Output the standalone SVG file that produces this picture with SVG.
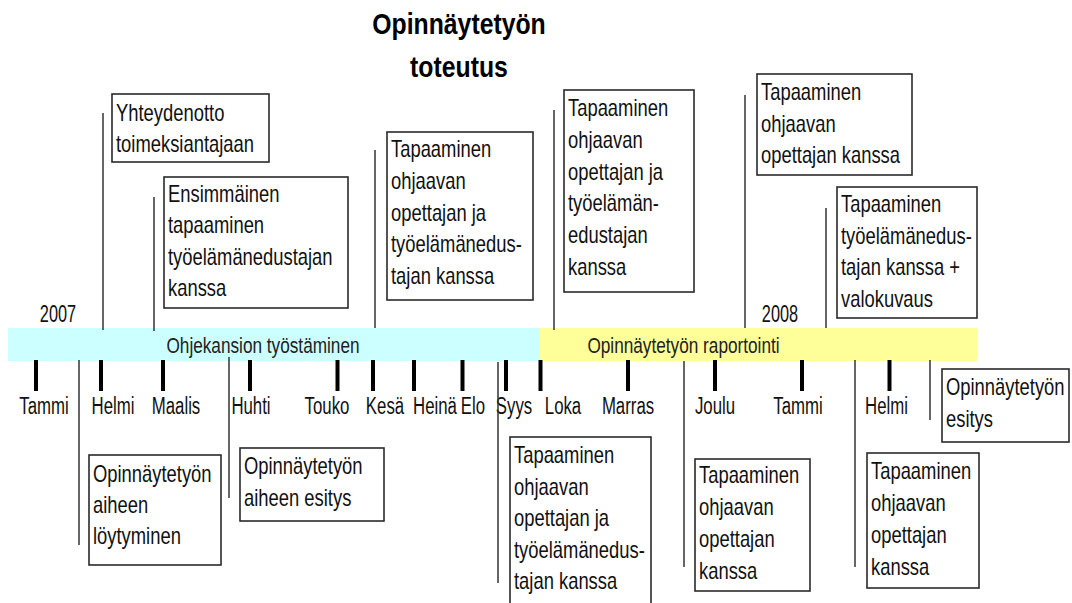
<svg xmlns="http://www.w3.org/2000/svg" width="1072" height="603" viewBox="0 0 1072 603">
<style>
.bg{fill:#ffffff}
.box{fill:#ffffff;stroke:#2a2a2a;stroke-width:1.6}
.bt{font-family:"Liberation Sans",Arial,sans-serif;font-size:23px;fill:#111}
.mt{font-family:"Liberation Sans",Arial,sans-serif;font-size:23px;fill:#111;text-anchor:middle}
.bar{font-family:"Liberation Sans",Arial,sans-serif;font-size:22.5px;fill:#222;text-anchor:middle}
.title{font-family:"Liberation Sans",Arial,sans-serif;font-size:29px;font-weight:bold;fill:#000;text-anchor:middle}
.tick{stroke:#000;stroke-width:4}
.conn{stroke:#333;stroke-width:1.5;fill:none}
</style>
<rect class="bg" x="0" y="0" width="1072" height="603"/>

<g id="title">
<text class="title" transform="translate(459,34) scale(0.855,1)">Opinnäytetyön</text>
<text class="title" transform="translate(459,77) scale(0.855,1)">toteutus</text>
</g>

<g id="timeline">
<rect x="8" y="328" width="532" height="33" fill="#ccffff"/>
<rect x="540" y="328" width="437" height="33" fill="#ffff99"/>
<text class="bar" transform="translate(263,352.5) scale(0.765,1)">Ohjekansion työstäminen</text>
<text class="bar" transform="translate(683.5,352.5) scale(0.765,1)">Opinnäytetyön raportointi</text>
<text class="mt" transform="translate(58,322) scale(0.71,1)">2007</text>
<text class="mt" transform="translate(780,322) scale(0.71,1)">2008</text>
<g id="ticks">
<line class="tick" x1="36" y1="360" x2="36" y2="391"/>
<line class="tick" x1="101" y1="360" x2="101" y2="391"/>
<line class="tick" x1="163" y1="360" x2="163" y2="391"/>
<line class="tick" x1="250" y1="360" x2="250" y2="391"/>
<line class="tick" x1="337.5" y1="360" x2="337.5" y2="391"/>
<line class="tick" x1="373" y1="360" x2="373" y2="391"/>
<line class="tick" x1="414" y1="360" x2="414" y2="391"/>
<line class="tick" x1="462.5" y1="360" x2="462.5" y2="391"/>
<line class="tick" x1="506" y1="360" x2="506" y2="391"/>
<line class="tick" x1="540.5" y1="360" x2="540.5" y2="391"/>
<line class="tick" x1="628" y1="360" x2="628" y2="391"/>
<line class="tick" x1="715" y1="360" x2="715" y2="391"/>
<line class="tick" x1="802" y1="360" x2="802" y2="391"/>
<line class="tick" x1="889.5" y1="360" x2="889.5" y2="391"/>
</g>
<g id="months">
<text class="mt" transform="translate(44,413.5) scale(0.73,1)">Tammi</text>
<text class="mt" transform="translate(113,413.5) scale(0.73,1)">Helmi</text>
<text class="mt" transform="translate(176,413.5) scale(0.73,1)">Maalis</text>
<text class="mt" transform="translate(251,413.5) scale(0.73,1)">Huhti</text>
<text class="mt" transform="translate(327,413.5) scale(0.73,1)">Touko</text>
<text class="mt" transform="translate(385,413.5) scale(0.73,1)">Kesä</text>
<text class="mt" transform="translate(435,413.5) scale(0.73,1)">Heinä</text>
<text class="mt" transform="translate(473,413.5) scale(0.73,1)">Elo</text>
<text class="mt" transform="translate(514,413.5) scale(0.73,1)">Syys</text>
<text class="mt" transform="translate(563,413.5) scale(0.73,1)">Loka</text>
<text class="mt" transform="translate(628,413.5) scale(0.73,1)">Marras</text>
<text class="mt" transform="translate(715,413.5) scale(0.73,1)">Joulu</text>
<text class="mt" transform="translate(798,413.5) scale(0.73,1)">Tammi</text>
<text class="mt" transform="translate(886.5,413.5) scale(0.73,1)">Helmi</text>
</g>
</g>

<g id="connectors">
<line class="conn" x1="103" y1="113" x2="103" y2="330"/>
<line class="conn" x1="154" y1="197" x2="154" y2="331"/>
<line class="conn" x1="375" y1="150" x2="375" y2="328"/>
<line class="conn" x1="554" y1="110" x2="554" y2="330"/>
<line class="conn" x1="745" y1="95" x2="745" y2="328"/>
<line class="conn" x1="826" y1="208" x2="826" y2="328"/>
<line class="conn" x1="79" y1="360" x2="79" y2="545"/>
<line class="conn" x1="229" y1="357" x2="229" y2="498"/>
<line class="conn" x1="498" y1="362" x2="498" y2="583"/>
<line class="conn" x1="684" y1="361" x2="684" y2="567"/>
<line class="conn" x1="855" y1="360" x2="855" y2="567"/>
<line class="conn" x1="930" y1="360" x2="930" y2="420"/>
</g>

<g id="yhteydenotto">
<rect class="box" x="112" y="94" width="157" height="68"/>
<text class="bt" transform="translate(116,0) scale(0.8,1)"><tspan x="0" y="121">Yhteydenotto</tspan><tspan x="0" y="152">toimeksiantajaan</tspan></text>
</g>

<g id="ensimmainen">
<rect class="box" x="164" y="177" width="184" height="131"/>
<text class="bt" transform="translate(168,0) scale(0.8,1)"><tspan x="0" y="202">Ensimmäinen</tspan><tspan x="0" y="233.5">tapaaminen</tspan><tspan x="0" y="265">työelämänedustajan</tspan><tspan x="0" y="296.5">kanssa</tspan></text>
</g>

<g id="tapaaminen-kesa">
<rect class="box" x="387" y="132" width="146" height="168"/>
<text class="bt" transform="translate(391,0) scale(0.8,1)"><tspan x="0" y="157.5">Tapaaminen</tspan><tspan x="0" y="189.5">ohjaavan</tspan><tspan x="0" y="221">opettajan ja</tspan><tspan x="0" y="252.5">työelämänedus-</tspan><tspan x="0" y="284.5">tajan kanssa</tspan></text>
</g>

<g id="tapaaminen-loka">
<rect class="box" x="564" y="90" width="130" height="202"/>
<text class="bt" transform="translate(568,0) scale(0.8,1)"><tspan x="0" y="116.5">Tapaaminen</tspan><tspan x="0" y="148.5">ohjaavan</tspan><tspan x="0" y="180">opettajan ja</tspan><tspan x="0" y="211.5">työelämän-</tspan><tspan x="0" y="243.5">edustajan</tspan><tspan x="0" y="275">kanssa</tspan></text>
</g>

<g id="tapaaminen-joulu-yla">
<rect class="box" x="757" y="74" width="155" height="101"/>
<text class="bt" transform="translate(761,0) scale(0.8,1)"><tspan x="0" y="100.5">Tapaaminen</tspan><tspan x="0" y="132">ohjaavan</tspan><tspan x="0" y="163.5">opettajan kanssa</tspan></text>
</g>

<g id="valokuvaus">
<rect class="box" x="837" y="187" width="140" height="131"/>
<text class="bt" transform="translate(841,0) scale(0.8,1)"><tspan x="0" y="212.5">Tapaaminen</tspan><tspan x="0" y="244">työelämänedus-</tspan><tspan x="0" y="275.5">tajan kanssa +</tspan><tspan x="0" y="307">valokuvaus</tspan></text>
</g>

<g id="aiheen-loytyminen">
<rect class="box" x="89" y="455" width="132" height="110"/>
<text class="bt" transform="translate(93,0) scale(0.8,1)"><tspan x="0" y="482">Opinnäytetyön</tspan><tspan x="0" y="513">aiheen</tspan><tspan x="0" y="544">löytyminen</tspan></text>
</g>

<g id="aiheen-esitys">
<rect class="box" x="240" y="448" width="144" height="73"/>
<text class="bt" transform="translate(244,0) scale(0.8,1)"><tspan x="0" y="474.5">Opinnäytetyön</tspan><tspan x="0" y="506">aiheen esitys</tspan></text>
</g>

<g id="tapaaminen-syys">
<rect class="box" x="510" y="437" width="141" height="175"/>
<text class="bt" transform="translate(514,0) scale(0.8,1)"><tspan x="0" y="463.5">Tapaaminen</tspan><tspan x="0" y="495">ohjaavan</tspan><tspan x="0" y="526.5">opettajan ja</tspan><tspan x="0" y="558">työelämänedus-</tspan><tspan x="0" y="589.5">tajan kanssa</tspan></text>
</g>

<g id="tapaaminen-joulu">
<rect class="box" x="695" y="459" width="115" height="132"/>
<text class="bt" transform="translate(699,0) scale(0.8,1)"><tspan x="0" y="483.5">Tapaaminen</tspan><tspan x="0" y="515.5">ohjaavan</tspan><tspan x="0" y="547.5">opettajan</tspan><tspan x="0" y="579.5">kanssa</tspan></text>
</g>

<g id="tapaaminen-helmi">
<rect class="box" x="867" y="453" width="112" height="135"/>
<text class="bt" transform="translate(871,0) scale(0.8,1)"><tspan x="0" y="479">Tapaaminen</tspan><tspan x="0" y="511">ohjaavan</tspan><tspan x="0" y="543">opettajan</tspan><tspan x="0" y="575">kanssa</tspan></text>
</g>

<g id="esitys">
<rect class="box" x="942" y="369" width="127" height="73"/>
<text class="bt" transform="translate(946,0) scale(0.8,1)"><tspan x="0" y="395.5">Opinnäytetyön</tspan><tspan x="0" y="427.5">esitys</tspan></text>
</g>
</svg>
